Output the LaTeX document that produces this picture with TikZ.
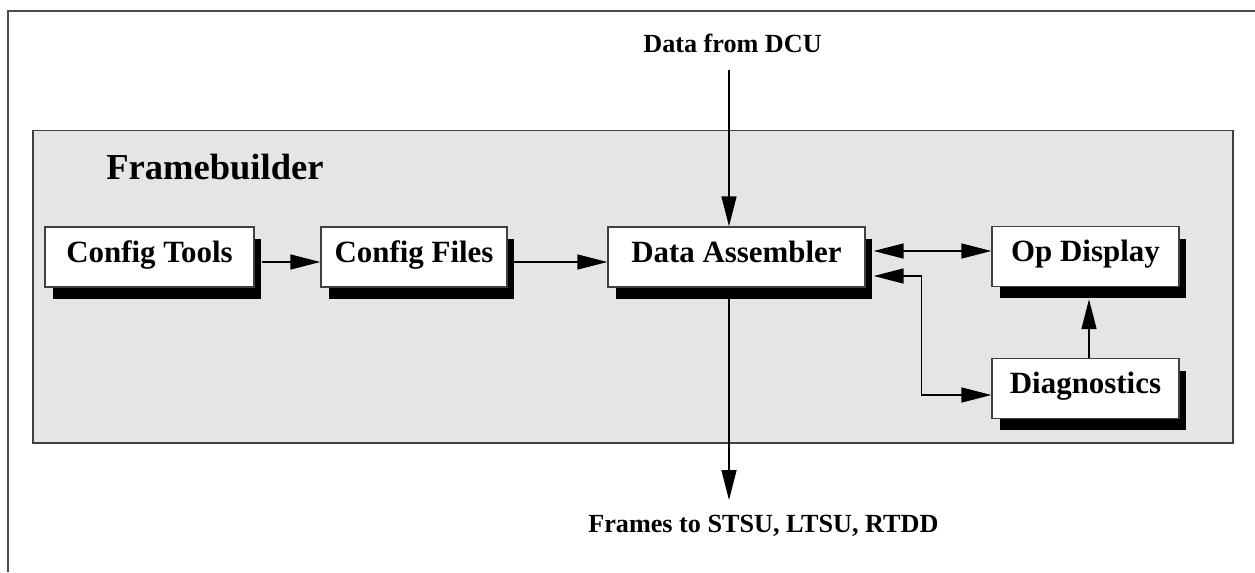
\documentclass[tikz,border=0pt]{standalone}
\usepackage{fontspec}
\setmainfont{Liberation Serif}
\usetikzlibrary{arrows.meta}
\usetikzlibrary{shadows}
\usetikzlibrary{calc}

\tikzset{
    box/.style={draw=black!75, line width=0.8pt, fill=white, minimum height=1.2cm, inner sep=0.2cm,
        text height=0.5cm, text depth=0.3cm, font=\fontsize{17.6}{20}\selectfont\bfseries,
        general shadow={fill=black, shadow xshift=0.15cm, shadow yshift=-0.24cm}},
    arr/.style={-{Triangle[length=0.6cm,width=0.3cm]}, line width=0.85pt},
    arrboth/.style={{Triangle[length=0.6cm,width=0.3cm]}-{Triangle[length=0.6cm,width=0.3cm]}, line width=0.85pt},
    io/.style={inner sep=0pt, anchor=base west, font=\fontsize{14.9}{17}\selectfont\bfseries}
}

\begin{document}
\begin{tikzpicture}[x=0.02cm, y=-0.02cm]
            \useasboundingbox (0,0) rectangle (1255,572);
            % outer frame, only top and left visible
            \draw[black!70, line width=1.1pt] (8,572) -- (8,11) -- (1255,11);
            % framebuilder area
            \draw[black!75, line width=0.8pt, fill=black!10] (33,130.5) rectangle (1233,443);
            \node[inner sep=0pt, anchor=base west, font=\fontsize{20.8}{24}\selectfont\bfseries] (fb) at (106,179) {Framebuilder};

            \node[box, minimum width=4.18cm] (tools) at (149.5,257) {Config Tools};
            \node[box, minimum width=3.72cm] (files) at (414,257) {Config Files};
            \node[box, minimum width=5.14cm] (asm) at (736.5,257) {Data Assembler};
            \node[box, minimum width=3.74cm] (opd) at (1085.5,256.5) {Op Display};
            \node[box, minimum width=3.74cm] (diag) at (1085.5,388.5) {Diagnostics};

            \node[io] (dcu) at (643,52) {Data from DCU};
            \node[io] (frames) at (588,532) {Frames to STSU, LTSU, RTDD};
            \coordinate (dcuin) at (729,70);
            \coordinate (frout) at (729,500);

            \draw[arr] ($(tools.east)+(7,5)$) -- ($(files.west)+(0,5)$);
            \draw[arr] ($(files.east)+(6,5)$) -- ($(asm.west)+(0,5)$);
            \draw[arr] (dcuin) -- (dcuin |- asm.north);
            \draw[arr] (dcuin |- asm.south) -- (frout);
            \draw[arrboth] ($(asm.east)+(8,-6)$) -- ($(opd.west)+(0,-5.5)$);
            \draw[arrboth] ($(asm.east)+(8,19)$) -- ++(48,0) |- ($(diag.west)+(0,6.5)$);
            \draw[arr] ($(diag.north)+(3.5,0)$) -- ($(opd.south)+(3.5,12)$);
\end{tikzpicture}
\end{document}
